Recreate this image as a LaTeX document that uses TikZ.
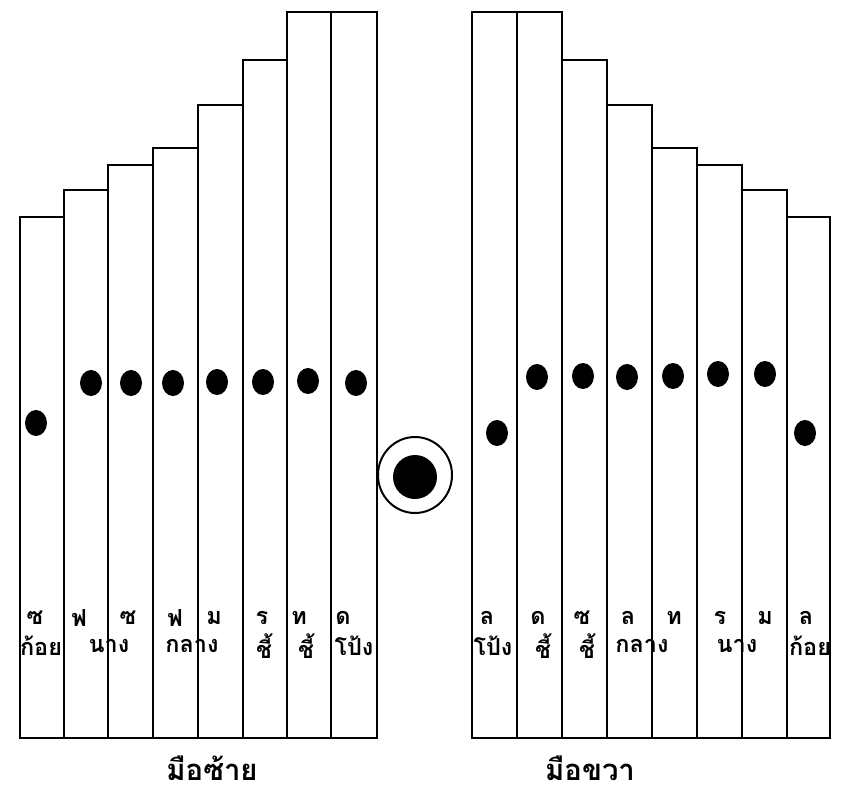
\documentclass[tikz,border=0pt]{standalone}
\usepackage{fontspec}
\newfontfamily\thaifont[Script=Thai]{Loma}
\begin{document}
\begin{tikzpicture}[x=0.3mm, y=-0.3mm, line width=1.7pt,
        note/.style={font=\thaifont\bfseries\fontsize{20}{23}\selectfont, inner sep=0pt},
        hand/.style={font=\thaifont\bfseries\fontsize{25}{28}\selectfont, inner sep=0pt}]
        \useasboundingbox (0,0) rectangle (844,792);

        % Teclas mano izquierda
        \draw (20,217) rectangle (64,738);
        \draw (64,190) rectangle (108,738);
        \draw (108,165) rectangle (153,738);
        \draw (153,148) rectangle (198,738);
        \draw (198,105) rectangle (243,738);
        \draw (243,60) rectangle (287,738);
        \draw (287,12) rectangle (331,738);
        \draw (331,12) rectangle (377,738);

        % Teclas mano derecha
        \draw (472,12) rectangle (517,738);
        \draw (517,12) rectangle (562,738);
        \draw (562,60) rectangle (607,738);
        \draw (607,105) rectangle (652,738);
        \draw (652,148) rectangle (697,738);
        \draw (697,165) rectangle (742,738);
        \draw (742,190) rectangle (787,738);
        \draw (787,217) rectangle (830,738);

        % Puntos izquierda
        \fill (36,423) ellipse (11 and 13);
        \fill (91,383) ellipse (11 and 13);
        \fill (131,383) ellipse (11 and 13);
        \fill (173,383) ellipse (11 and 13);
        \fill (217,382) ellipse (11 and 13);
        \fill (263,382) ellipse (11 and 13);
        \fill (308,381) ellipse (11 and 13);
        \fill (356,383) ellipse (11 and 13);

        % Puntos derecha
        \fill (497,433) ellipse (11 and 13);
        \fill (537,377) ellipse (11 and 13);
        \fill (583,376) ellipse (11 and 13);
        \fill (627,377) ellipse (11 and 13);
        \fill (673,376) ellipse (11 and 13);
        \fill (718,374) ellipse (11 and 13);
        \fill (765,374) ellipse (11 and 13);
        \fill (805,433) ellipse (11 and 13);

        % Circulo central
        \draw (415,475) ellipse (37 and 38);
        \fill (415,477) circle (22);

        % Notas izquierda
        \node[note] (noteL1) at (35,618) {ซ};
        \node[note] (noteL2) at (79,618) {ฟ};
        \node[note] (noteL3) at (128,618) {ซ};
        \node[note] (noteL4) at (175,618) {ฟ};
        \node[note] (noteL5) at (214,618) {ม};
        \node[note] (noteL6) at (262,618) {ร};
        \node[note] (noteL7) at (299,618) {ท};
        \node[note] (noteL8) at (343,618) {ด};

        % Dedos izquierda
        \node[note] (fingerL1) at (41,646) {ก้อย};
        \node[note] (fingerL2) at (109,646) {นาง};
        \node[note] (fingerL3) at (192,646) {กลาง};
        \node[note] (fingerL4) at (264,646) {ชี้};
        \node[note] (fingerL5) at (306,646) {ชี้};
        \node[note] (fingerL6) at (354,646) {โป้ง};

        % Notas derecha
        \node[note] (noteR1) at (487,618) {ล};
        \node[note] (noteR2) at (538,618) {ด};
        \node[note] (noteR3) at (582,618) {ซ};
        \node[note] (noteR4) at (628,618) {ล};
        \node[note] (noteR5) at (674,618) {ท};
        \node[note] (noteR6) at (720,618) {ร};
        \node[note] (noteR7) at (765,618) {ม};
        \node[note] (noteR8) at (806,618) {ล};

        % Dedos derecha
        \node[note] (fingerR1) at (493,646) {โป้ง};
        \node[note] (fingerR2) at (543,646) {ชี้};
        \node[note] (fingerR3) at (587,646) {ชี้};
        \node[note] (fingerR4) at (642,646) {กลาง};
        \node[note] (fingerR5) at (737,646) {นาง};
        \node[note] (fingerR6) at (810,646) {ก้อย};

        % Manos
        \node[hand] (handL) at (212,768) {มือซ้าย};
        \node[hand] (handR) at (590,768) {มือขวา};
    \end{tikzpicture}
\end{document}
